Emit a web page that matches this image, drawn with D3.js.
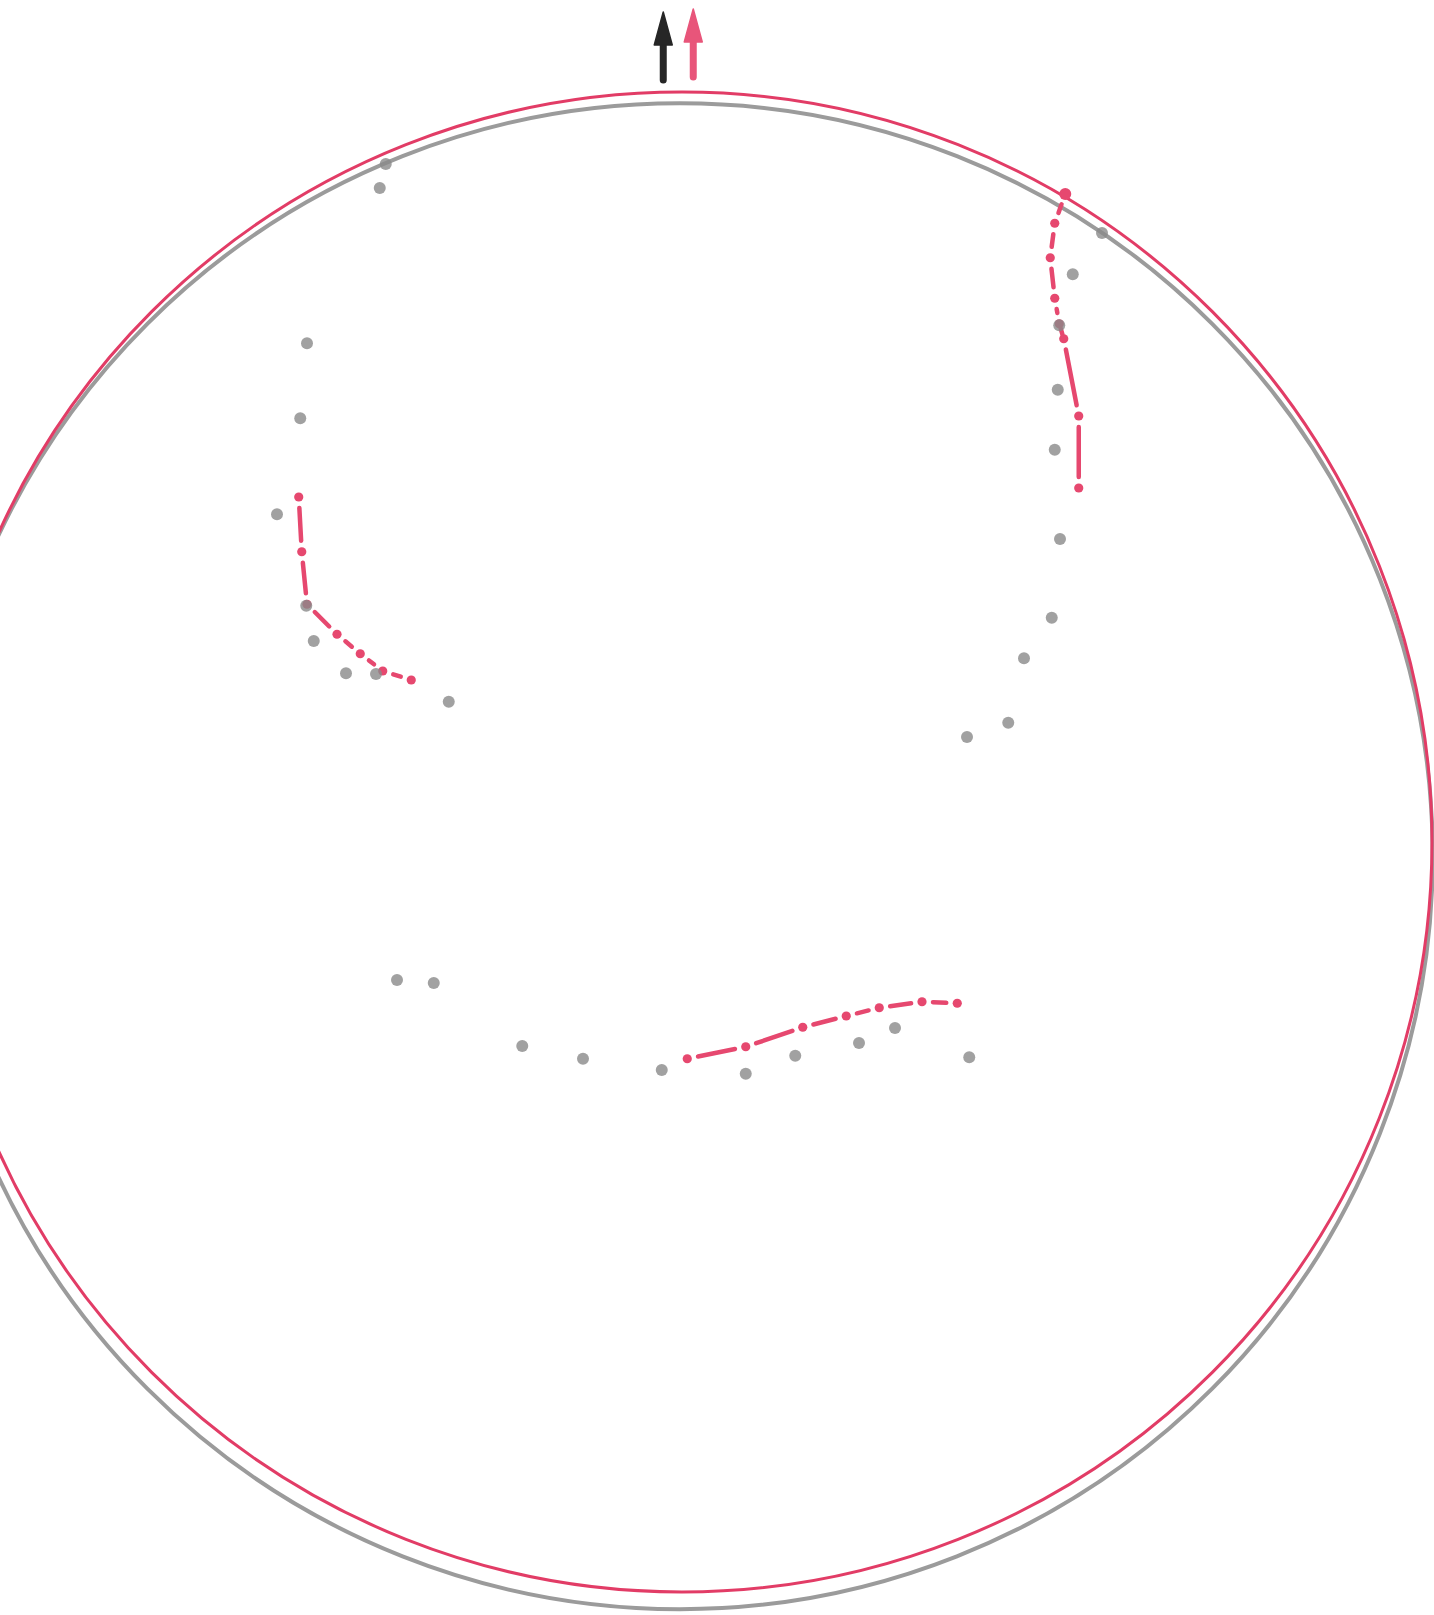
<!DOCTYPE html>
<html>
<head>
<meta charset="utf-8">
<script src="https://cdn.jsdelivr.net/npm/d3@7"></script>
<style>
  html, body { margin: 0; padding: 0; background: #fff; }
  svg { display: block; }
</style>
</head>
<body>
<div id="net"></div>
<script>
// net coordinates: primitive circle centred at 0,0 with radius 1
const primitives = [
    { name: "grey", cx: -0.003, cy: -0.019, r: 1.004 },
    { name: "pink", cx: 0, cy: 0, r: 1 }
];

const greyPoles = [
    [-0.395, 0.904], [-0.403, 0.872], [-0.500, 0.665], [-0.509, 0.565], [-0.540, 0.437],
    [-0.501, 0.315], [-0.491, 0.268], [-0.448, 0.225], [-0.408, 0.224], [-0.311, 0.187],
    [0.560, 0.812], [0.521, 0.757], [0.503, 0.689], [0.501, 0.603], [0.497, 0.523],
    [0.504, 0.404], [0.493, 0.299], [0.456, 0.245], [0.435, 0.159], [0.380, 0.140],
    [-0.380, -0.184], [-0.331, -0.188], [-0.213, -0.272], [-0.132, -0.289], [-0.027, -0.304],
    [0.085, -0.309], [0.151, -0.285], [0.236, -0.268], [0.284, -0.248], [0.383, -0.287]
];

const traceNE = [
    [0.511, 0.864], [0.497, 0.825], [0.491, 0.779], [0.497, 0.725],
    [0.503, 0.691], [0.509, 0.671], [0.529, 0.568], [0.529, 0.472]
];
const traceW = [
    [-0.511, 0.460], [-0.507, 0.387], [-0.500, 0.317], [-0.460, 0.277],
    [-0.429, 0.251], [-0.399, 0.228], [-0.361, 0.216]
];
const traceS = [
    [0.007, -0.289], [0.085, -0.273], [0.161, -0.247], [0.219, -0.232],
    [0.263, -0.221], [0.320, -0.213], [0.367, -0.215]
];
const traces = [traceNE, traceW, traceS];

// north markers, x offset in net units
const northArrows = [
    { name: "grey", dx: -0.025 },
    { name: "pink", dx: 0.015 }
];

const W = 1434, H = 1615;
const cx = 682, cy = 842, R = 750;
const colours = { grey: "#9b9b9b", pink: "#e23c66" };
const traceColour = "#e6486f";

const x = d3.scaleLinear().domain([-1, 1]).range([cx - R, cx + R]);
const y = d3.scaleLinear().domain([-1, 1]).range([cy + R, cy - R]);
const rr = d3.scaleLinear().domain([0, 1]).range([0, R]);

const svg = d3.select("#net").append("svg")
    .attr("width", W)
    .attr("height", H);

svg.append("rect").attr("width", W).attr("height", H).attr("fill", "#fff");

// primitives
svg.append("g").selectAll("circle")
    .data(primitives)
    .join("circle")
    .attr("cx", d => x(d.cx))
    .attr("cy", d => y(d.cy))
    .attr("r", d => rr(d.r))
    .attr("fill", "none")
    .attr("stroke", d => colours[d.name])
    .attr("stroke-width", d => d.name === "grey" ? 4 : 3);

// north arrows
const arrowTop = { grey: 12, pink: 9 };
const arrowBase = { grey: 80, pink: 77 };
const aG = svg.append("g");
northArrows.forEach(a => {
    const ax = x(a.dx);
    const col = a.name === "grey" ? "#262626" : "#e8557a";
    const top = arrowTop[a.name], base = arrowBase[a.name];
    aG.append("line")
        .attr("x1", ax).attr("x2", ax)
        .attr("y1", top + 28).attr("y2", base)
        .attr("stroke", col)
        .attr("stroke-width", 7)
        .attr("stroke-linecap", "round");
    aG.append("path")
        .attr("d", `M${ax},${top} L${ax + 9},${top + 33} L${ax - 9},${top + 33} Z`)
        .attr("fill", col)
        .attr("stroke", col)
        .attr("stroke-width", 1.5)
        .attr("stroke-linejoin", "round");
});

// pink dash-dot traces
const traceG = svg.append("g");
const inset = 11;
traces.forEach(tr => {
    const pts = tr.map(p => [x(p[0]), y(p[1])]);
    const segs = d3.pairs(pts).map(([a, b]) => {
        const dx = b[0] - a[0], dy = b[1] - a[1];
        const len = Math.hypot(dx, dy);
        const ux = dx / len, uy = dy / len;
        return [a[0] + ux * inset, a[1] + uy * inset, b[0] - ux * inset, b[1] - uy * inset];
    });
    traceG.selectAll(null)
        .data(segs)
        .join("line")
        .attr("x1", d => d[0]).attr("y1", d => d[1])
        .attr("x2", d => d[2]).attr("y2", d => d[3])
        .attr("stroke", traceColour)
        .attr("stroke-width", 4.5)
        .attr("stroke-linecap", "round");
    traceG.selectAll(null)
        .data(pts)
        .join("circle")
        .attr("cx", d => d[0])
        .attr("cy", d => d[1])
        .attr("r", (d, i) => i === 0 && tr === traceNE ? 6 : 4.6)
        .attr("fill", traceColour);
});

// grey poles, semi-transparent so overlaps on the traces turn mauve
svg.append("g").selectAll("circle")
    .data(greyPoles)
    .join("circle")
    .attr("cx", d => x(d[0]))
    .attr("cy", d => y(d[1]))
    .attr("r", 6)
    .attr("fill", "#8a8a8a")
    .attr("fill-opacity", 0.8);
</script>
</body>
</html>
